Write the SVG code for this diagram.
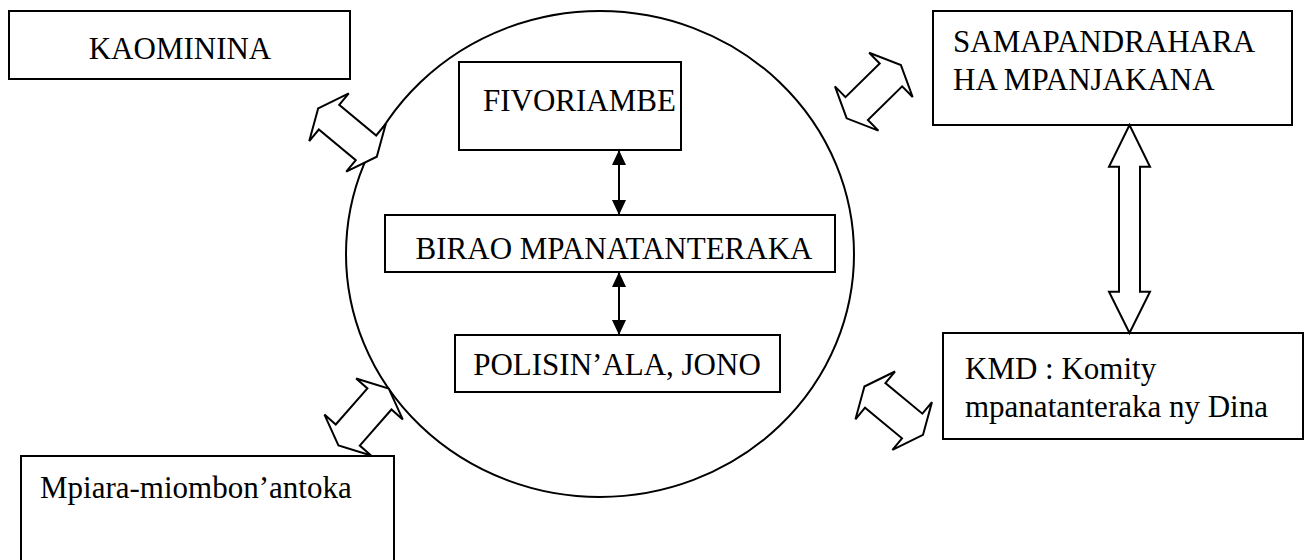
<svg xmlns="http://www.w3.org/2000/svg" width="1309" height="560" viewBox="0 0 1309 560">
<style>
.box{fill:#fff;stroke:#000;stroke-width:2}
.t{font-family:"Liberation Serif","Times New Roman",serif;font-size:31px;fill:#000}
.ln{stroke:#000;stroke-width:2;fill:none}
.blk{fill:#fff;stroke:#000;stroke-width:2;stroke-linejoin:miter}
</style>
<defs>
<marker id="ah" markerUnits="userSpaceOnUse" markerWidth="16" markerHeight="14" refX="15" refY="7" orient="auto-start-reverse">
<path d="M0,0 L15,7 L0,14 Z" fill="#000"/>
</marker>
<path id="dbl" d="M-38,0 L-24,-31 L-24,-16 L24,-16 L24,-31 L38,0 L24,31 L24,16 L-24,16 L-24,31 Z"/>
</defs>
<rect width="1309" height="560" fill="#fff"/>
<g id="circle">
<ellipse cx="600" cy="254" rx="254" ry="243" class="ln"/>
</g>
<g id="kaominina">
<rect x="9" y="11" width="341" height="68" class="box"/>
<text x="180" y="59" class="t" text-anchor="middle">KAOMININA</text>
</g>
<g id="samapandrahara">
<rect x="933" y="11" width="359" height="114" class="box"/>
<text x="953" y="52" class="t">SAMAPANDRAHARA</text>
<text x="953" y="90" class="t">HA MPANJAKANA</text>
</g>
<g id="kmd">
<rect x="943" y="333" width="360" height="106" class="box"/>
<text x="965" y="379" class="t">KMD : Komity</text>
<text x="965" y="417" class="t">mpanatanteraka ny Dina</text>
</g>
<g id="mpiara">
<rect x="21" y="456" width="373" height="110" class="box"/>
<text x="40" y="498" class="t">Mpiara-miombon’antoka</text>
</g>
<g id="fivoriambe">
<rect x="459" y="62" width="222" height="88" class="box"/>
<text x="483" y="111" class="t">FIVORIAMBE</text>
</g>
<g id="birao">
<rect x="385" y="215" width="450" height="57" class="box"/>
<text x="614" y="259" class="t" text-anchor="middle">BIRAO MPANATANTERAKA</text>
</g>
<g id="polisin">
<rect x="455" y="335" width="325" height="57" class="box"/>
<text x="617" y="375" class="t" text-anchor="middle">POLISIN’ALA, JONO</text>
</g>
<g id="connectors">
<line x1="619" y1="150" x2="619" y2="215" class="ln" marker-start="url(#ah)" marker-end="url(#ah)"/>
<line x1="619" y1="272" x2="619" y2="335" class="ln" marker-start="url(#ah)" marker-end="url(#ah)"/>
<use href="#dbl" class="blk" transform="translate(347.5,132.5) rotate(39.6)"/>
<use href="#dbl" class="blk" transform="translate(873.8,91.7) rotate(-44.5)"/>
<use href="#dbl" class="blk" transform="translate(893.7,410.7) rotate(39.6)"/>
<use href="#dbl" class="blk" transform="translate(363.6,417) rotate(-48.7)"/>
<path class="blk" d="M1129.5,125 L1150,166.7 L1140,166.7 L1140,291.7 L1150,291.7 L1129.5,333 L1109,291.7 L1119,291.7 L1119,166.7 L1109,166.7 Z"/>
</g>
</svg>
